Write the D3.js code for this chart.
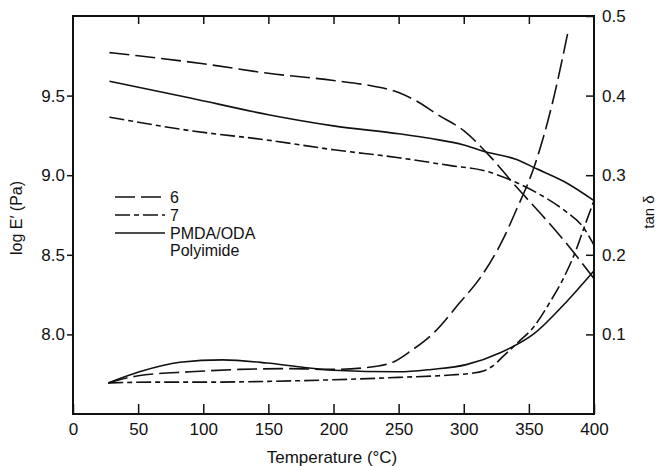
<!DOCTYPE html>
<html>
<head>
<meta charset="utf-8">
<script src="https://cdn.jsdelivr.net/npm/d3@7"></script>
<style>
  body { margin: 0; background: #fff; }
  text { font-family: "Liberation Sans", Arial, sans-serif; fill: #111; }
</style>
</head>
<body>
<div id="chart"></div>
<script>
const W = 658, H = 466;

// temperature (°C) vs log E' (Pa)
const mod6 = [[28, 9.77], [50, 9.75], [100, 9.70], [150, 9.64], [200, 9.595], [230, 9.56], [250, 9.52], [265, 9.46], [280, 9.38], [300, 9.28], [320, 9.12], [340, 8.93], [360, 8.75], [380, 8.56], [400, 8.35]];
const mod7 = [[28, 9.365], [90, 9.28], [150, 9.22], [200, 9.16], [250, 9.11], [290, 9.06], [315, 9.03], [336, 8.97], [356, 8.89], [377, 8.78], [392, 8.67], [400, 8.56]];
const modPI = [[28, 9.59], [90, 9.485], [150, 9.38], [200, 9.31], [250, 9.26], [275, 9.23], [300, 9.19], [315, 9.15], [340, 9.10], [356, 9.04], [377, 8.96], [400, 8.84]];

// temperature (°C) vs tan delta
const tan6 = [[27, 0.039], [50, 0.048], [90, 0.053], [128, 0.056], [167, 0.057], [200, 0.056], [223, 0.058], [244, 0.064], [260, 0.080], [277, 0.102], [297, 0.140], [313, 0.172], [330, 0.219], [340, 0.255], [355, 0.315], [368, 0.39], [380, 0.48]];
const tan7 = [[27, 0.039], [60, 0.040], [100, 0.040], [150, 0.041], [200, 0.043], [250, 0.046], [290, 0.049], [305, 0.051], [315, 0.054], [322, 0.060], [330, 0.072], [341, 0.089], [354, 0.110], [366, 0.140], [377, 0.172], [386, 0.205], [393, 0.237], [400, 0.268]];
const tanPI = [[27, 0.039], [51, 0.053], [82, 0.065], [115, 0.068], [149, 0.064], [175, 0.059], [200, 0.055], [250, 0.053], [275, 0.056], [302, 0.062], [328, 0.077], [354, 0.101], [380, 0.143], [400, 0.180]];

const xTicks = [0, 50, 100, 150, 200, 250, 300, 350, 400];
const leftTicks = [8.0, 8.5, 9.0, 9.5];
const rightTicks = [0.1, 0.2, 0.3, 0.4, 0.5];
const legendLabels = ["6", "7", "PMDA/ODA"];

const dash6 = "20,6", dash7 = "15,4,5,4";

const plotLeft = 73, plotRight = 594, plotTop = 16, plotBottom = 414;

const svg = d3.select("#chart").append("svg")
    .attr("width", W)
    .attr("height", H);

const x = d3.scaleLinear().domain([0, 400]).range([plotLeft, plotRight]);
const yL = d3.scaleLinear().domain([7.5, 10]).range([plotBottom, plotTop]);
const yR = d3.scaleLinear().domain([0, 0.5]).range([plotBottom, plotTop]);

// axes
const xAxis = svg.append("g")
    .attr("transform", `translate(0,${plotBottom})`)
    .call(d3.axisBottom(x).tickValues(xTicks).tickSizeInner(-10).tickSizeOuter(0).tickPadding(9))
xAxis.selectAll("text").style("font-size", "17px")

svg.append("g")
    .attr("transform", `translate(0,${plotTop})`)
    .call(d3.axisTop(x).tickValues(xTicks.slice(1, -1)).tickSizeInner(-8).tickSizeOuter(0).tickFormat(""))

const yAxisL = svg.append("g")
    .attr("transform", `translate(${plotLeft},0)`)
    .call(d3.axisLeft(yL).tickValues(leftTicks).tickFormat(d3.format(".1f")).tickSizeInner(6).tickSizeOuter(0).tickPadding(2))
yAxisL.selectAll("text").style("font-size", "17px")

const yAxisR = svg.append("g")
    .attr("transform", `translate(${plotRight},0)`)
    .call(d3.axisRight(yR).tickValues(rightTicks).tickFormat(d3.format(".1f")).tickSizeInner(-8).tickSizeOuter(0).tickPadding(8))
yAxisR.selectAll("text").style("font-size", "17px")

svg.selectAll(".domain").remove()
svg.selectAll(".tick line").attr("stroke", "#111").attr("stroke-width", 1.5)

// frame
svg.append("rect")
    .attr("x", plotLeft)
    .attr("y", plotTop)
    .attr("width", plotRight - plotLeft)
    .attr("height", plotBottom - plotTop)
    .attr("fill", "none")
    .attr("stroke", "#111")
    .attr("stroke-width", 2)

// curves
const lineL = d3.line().x(d => x(d[0])).y(d => yL(d[1])).curve(d3.curveMonotoneX)
const lineR = d3.line().x(d => x(d[0])).y(d => yR(d[1])).curve(d3.curveMonotoneX)

const curves = [
    { data: mod6, line: lineL, dash: dash6 },
    { data: mod7, line: lineL, dash: dash7 },
    { data: modPI, line: lineL, dash: null },
    { data: tan6, line: lineR, dash: dash6 },
    { data: tan7, line: lineR, dash: dash7 },
    { data: tanPI, line: lineR, dash: null }
]

svg.append("g")
    .selectAll("path")
    .data(curves)
    .enter()
    .append("path")
    .attr("d", d => d.line(d.data))
    .attr("fill", "none")
    .attr("stroke", "#111")
    .attr("stroke-width", 1.6)
    .attr("stroke-dasharray", d => d.dash)

// legend
const legend = svg.append("g")
const legendY = [197, 215, 233]
const legendDash = [dash6, dash7, null]
legendLabels.forEach((lab, i) => {
    legend.append("line")
        .attr("x1", 115).attr("x2", 165)
        .attr("y1", legendY[i]).attr("y2", legendY[i])
        .attr("stroke", "#111")
        .attr("stroke-width", 1.6)
        .attr("stroke-dasharray", legendDash[i])
    legend.append("text")
        .attr("x", 170)
        .attr("y", legendY[i] + 6)
        .style("font-size", "16px")
        .text(lab)
})
legend.append("text")
    .attr("x", 170)
    .attr("y", 256)
    .style("font-size", "16px")
    .text("Polyimide")

// axis titles
svg.append("text")
    .attr("x", 332)
    .attr("y", 463)
    .attr("text-anchor", "middle")
    .style("font-size", "17px")
    .text("Temperature (°C)")

svg.append("text")
    .attr("transform", "translate(22,218) rotate(-90)")
    .attr("text-anchor", "middle")
    .style("font-size", "16px")
    .text("log E′ (Pa)")

svg.append("text")
    .attr("transform", "translate(654,212) rotate(-90)")
    .attr("text-anchor", "middle")
    .style("font-size", "15px")
    .text("tan δ")
</script>
</body>
</html>
